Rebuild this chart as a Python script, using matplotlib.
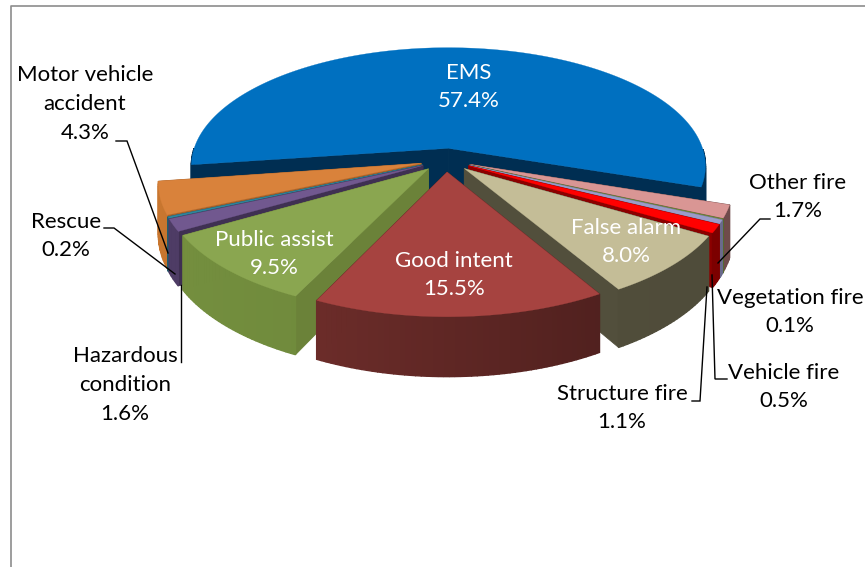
import numpy as np
import matplotlib
matplotlib.use("Agg")
import matplotlib.pyplot as plt
from matplotlib.patches import Polygon

labels = ["EMS", "Other fire", "Vegetation fire", "Vehicle fire", "Structure fire", "False alarm",
          "Good intent", "Public assist", "Hazardous condition", "Rescue", "Motor vehicle accident"]
values = [57.4, 1.7, 0.1, 0.5, 1.1, 8.0, 15.5, 9.5, 1.6, 0.2, 4.3]
top_colors = ["#0070C0", "#D99694", "#77933C", "#9B9BC8", "#FF0000", "#C4BD97",
              "#A64340", "#8AA650", "#71588F", "#31859C", "#D9823B"]
# wall colours, left end and right end of the rim
wall_left = ["#002E52", "#8A6362", "#556B2F", "#6A6A8C", "#A00000", "#57533F",
             "#7C3330", "#75903F", "#4F3D66", "#215D6D", "#C8762F"]
wall_right = ["#002E52", "#6E4A49", "#556B2F", "#6A6A8C", "#7A0000", "#4E4B39",
              "#431B19", "#657E36", "#3F3052", "#215D6D", "#B5692A"]
cut_colors = ["#002E52", "#6E4A49", "#556B2F", "#6A6A8C", "#8C0000", "#524F3C",
              "#5A2523", "#6B8239", "#3F3052", "#215D6D", "#A8622A"]

# drawn back to front
draw_order = [0, 1, 2, 3, 4, 5, 10, 9, 8, 7, 6]

START = -98.0
EXPLODE = 0.10
CX, CY = 446, 160
RX, RY = 258, 119
PERSP = 0.15
DEPTH = 50

plt.rcParams['font.family'] = ['Lato', 'DejaVu Sans']


def project(x, y, z=0.0):
    s = 1.0 / (1.0 + PERSP * y)
    return CX + RX * x * s, CY - RY * y * s + DEPTH * z * s


def blend(c1, c2, t):
    a = np.array(matplotlib.colors.to_rgb(c1))
    b = np.array(matplotlib.colors.to_rgb(c2))
    return a + (b - a) * t


fig = plt.figure(figsize=(8.65, 5.67), dpi=100)
ax = fig.add_axes([0, 0, 1, 1])
ax.set_xlim(0, 865)
ax.set_ylim(567, 0)
ax.axis("off")

# chart frame, only the left and top edges fall inside the figure
ax.plot([10.5, 10.5, 865], [567, 5.5, 5.5], color="#8C8C8C", lw=1.2)

edges = START + np.concatenate([[0], np.cumsum(values)]) * 3.6

for i in draw_order:
    t0, t1 = np.radians(edges[i]), np.radians(edges[i + 1])
    mid = (t0 + t1) / 2
    ox, oy = EXPLODE * np.sin(mid), EXPLODE * np.cos(mid)
    th = np.linspace(t0, t1, max(int(np.degrees(t1 - t0)), 4))
    xs, ys = ox + np.sin(th), oy + np.cos(th)

    # flat walls along both cut edges
    for tx, ty in [(xs[0], ys[0]), (xs[-1], ys[-1])]:
        pts = [project(ox, oy), project(tx, ty), project(tx, ty, 1), project(ox, oy, 1)]
        ax.add_patch(Polygon(pts, closed=True, fc=cut_colors[i], ec=cut_colors[i], lw=0.6))

    # outer rim, shaded in strips from left to right on screen
    for k in range(len(th) - 1):
        if ys[k] > oy and i == 0:
            continue
        a = project(xs[k], ys[k])
        b = project(xs[k + 1], ys[k + 1])
        c = project(xs[k + 1], ys[k + 1], 1)
        d = project(xs[k], ys[k], 1)
        frac = (np.sin(th[k]) + 1) / 2
        col = blend(wall_left[i], wall_right[i], frac)
        ax.add_patch(Polygon([a, b, c, d], closed=True, fc=col, ec=col, lw=1.0))

    # top face
    top = [project(ox, oy)] + [project(p, q) for p, q in zip(xs, ys)]
    ax.add_patch(Polygon(top, closed=True, fc=top_colors[i], ec=top_colors[i], lw=0.2))

FS = 16
black = dict(color="black", fontsize=FS, ha="center", va="center", linespacing=1.55)
white = dict(color="white", fontsize=FS, ha="center", va="center", linespacing=1.55)

ax.text(469, 87, "EMS\n57.4%", **white)
ax.text(274, 254, "Public assist\n9.5%", **white)
ax.text(454, 275, "Good intent\n15.5%", **white)
ax.text(626, 242, "False alarm\n8.0%", **white)
ax.text(85, 104, "Motor vehicle\naccident\n4.3%", **black)
ax.text(66, 236, "Rescue\n0.2%", **black)
ax.text(125, 385, "Hazardous\ncondition\n1.6%", **black)
ax.text(798, 197, "Other fire\n1.7%", **black)
ax.text(790, 312, "Vegetation fire\n0.1%", **black)
ax.text(784, 387, "Vehicle fire\n0.5%", **black)
ax.text(622, 408, "Structure fire\n1.1%", **black)

# leader lines
leader = dict(color="black", lw=1.0, solid_joinstyle="miter")
ax.plot([116, 127, 168], [141, 141, 253], **leader)
ax.plot([104, 114, 175], [228, 228, 274], **leader)
ax.plot([181, 181], [362, 285], **leader)
ax.plot([770, 760, 718], [219, 219, 263], **leader)
ax.plot([727, 715, 712], [379, 379, 275], **leader)
ax.plot([692, 700, 707], [401, 401, 287], **leader)

fig.savefig("out.png", dpi=100)
